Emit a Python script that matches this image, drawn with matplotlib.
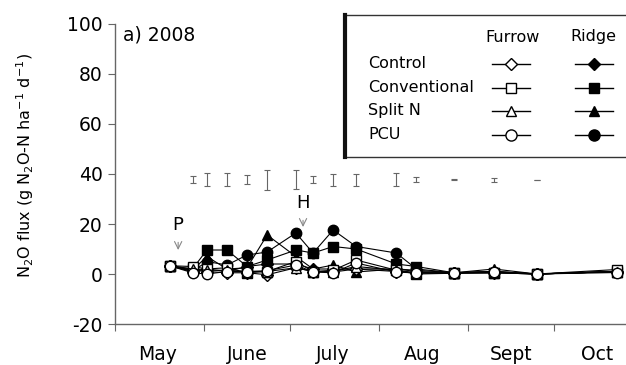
import matplotlib
matplotlib.use("Agg")
import matplotlib.pyplot as plt
from matplotlib.lines import Line2D
from matplotlib.patches import Rectangle

plt.rcParams['font.family'] = ['DejaVu Sans']
plt.rcParams['axes.unicode_minus'] = False

# sampling dates (day of year, 2008)
dates = [141, 149, 154, 161, 168, 175, 185, 191, 198, 206, 220, 227, 240, 254, 269, 297]

# furrow (open symbols)
furrow_control = [3.3, 1.5, 1.0, 0.5, 0.5, -0.3, 2.5, 1.0, 0.8, 2.0, 1.0, 0.5, 0.3, 0.5, 0.0, 1.0]
furrow_conv = [3.3, 3.0, 2.0, 2.5, 0.5, 1.0, 5.0, 1.0, 1.5, 5.6, 1.5, 0.0, 0.3, 0.5, 0.0, 1.8]
furrow_split = [3.3, 2.0, 1.5, 1.5, 1.0, 1.0, 2.5, 1.0, 1.0, 3.0, 1.5, 0.5, 0.5, 1.0, 0.0, 1.0]
furrow_pcu = [3.3, 0.5, 0.0, 1.0, 1.0, 1.3, 3.6, 0.8, 0.5, 4.4, 0.8, 0.4, 0.4, 0.8, 0.0, 0.6]

# ridge (filled symbols)
ridge_control = [3.3, 1.0, 2.0, 1.0, 3.0, 4.0, 4.0, 2.0, 2.0, 2.0, 2.0, 1.0, 0.5, 1.0, 0.0, 1.0]
ridge_conv = [3.3, 2.0, 9.6, 9.6, 3.0, 5.6, 9.6, 8.4, 11.0, 10.0, 4.0, 3.0, 0.5, 0.5, 0.0, 1.0]
ridge_split = [3.3, 1.5, 7.0, 2.0, 2.5, 15.6, 7.0, 2.0, 3.6, 0.8, 2.0, 1.5, 0.5, 2.0, 0.0, 1.0]
ridge_pcu = [3.3, 1.0, 5.0, 3.6, 7.6, 8.8, 16.4, 8.4, 17.6, 11.0, 8.4, 2.0, 0.5, 1.0, 0.0, 1.0]

# LSD bars
lsd_dates = [149, 154, 161, 168, 175, 185, 191, 198, 206, 220, 227, 240, 254, 269]
lsd_center = [37.6] * 14
lsd_half = [1.4, 2.6, 2.6, 1.8, 4.0, 3.8, 1.4, 2.4, 2.4, 2.6, 1.0, 0.2, 0.8, 0.1]

month_ticks = [122, 153, 183, 214, 245, 275]
month_mid = [137, 168, 198, 229, 260, 290]
month_names = ['May', 'June', 'July', 'Aug', 'Sept', 'Oct']

fig = plt.figure(figsize=(6.26, 3.65), dpi=100)
ax = fig.add_axes([0.1837, 0.1123, 0.8163, 0.822])

series = [
    (ridge_control, 'D', 'black', 6),
    (ridge_conv, 's', 'black', 6.5),
    (ridge_split, '^', 'black', 7),
    (ridge_pcu, 'o', 'black', 7.5),
    (furrow_control, 'D', 'white', 6),
    (furrow_conv, 's', 'white', 6.5),
    (furrow_split, '^', 'white', 7),
    (furrow_pcu, 'o', 'white', 7.5),
]
for vals, m, fc, ms in series:
    ax.plot(dates, vals, color='black', lw=0.8, marker=m, markerfacecolor=fc,
            markeredgecolor='black', markeredgewidth=1, markersize=ms)

ax.errorbar(lsd_dates, lsd_center, yerr=lsd_half, fmt='none', ecolor='#666666',
            elinewidth=0.8, capsize=2, capthick=0.8)

ax.annotate('P', xy=(144, 9.6), xytext=(144, 19.6), ha='center', va='center', fontsize=13,
            arrowprops=dict(arrowstyle='->', color='#888888', lw=0.8, shrinkA=4, shrinkB=0))
ax.annotate('H', xy=(187.5, 18.8), xytext=(187.5, 28.4), ha='center', va='center', fontsize=13,
            arrowprops=dict(arrowstyle='->', color='#888888', lw=0.8, shrinkA=4, shrinkB=0))

ax.text(0.015, 0.995, 'a) 2008', transform=ax.transAxes, ha='left', va='top', fontsize=13.5)

ax.set_xlim(122, 300)
ax.set_ylim(-20, 100)
ax.set_yticks([-20, 0, 20, 40, 60, 80, 100])
ax.set_xticks(month_ticks)
ax.set_xticklabels([])
ax.set_xticks(month_mid, minor=True)
ax.set_xticklabels(month_names, minor=True)
ax.tick_params(axis='x', which='minor', length=0, pad=15, labelsize=13.5)
ax.tick_params(axis='x', which='major', length=5, color='#666666')
ax.tick_params(axis='y', length=5, color='#666666', labelsize=13.5, pad=4)
for s in ['top', 'right']:
    ax.spines[s].set_visible(False)
for s in ['left', 'bottom']:
    ax.spines[s].set_color('#666666')
    ax.spines[s].set_linewidth(1)
ax.set_ylabel(r'N$_2$O flux (g N$_2$O-N ha$^{\mathrm{-1}}$ d$^{\mathrm{-1}}$)', fontsize=11.5)
ax.yaxis.set_label_coords(-0.155, 0.53)

# legend drawn by hand in figure pixels
W, H = 626.0, 365.0
def fx(px):
    return px / W
def fy(py):
    return 1 - py / H

fig.patches.append(Rectangle((fx(344), fy(157)), fx(700) - fx(344), fy(15) - fy(157),
                             transform=fig.transFigure, fill=False, edgecolor='#333333', lw=1))
fig.lines.append(Line2D([fx(345), fx(345)], [fy(15), fy(157)], transform=fig.transFigure,
                        color='#111111', lw=3))
fig.text(fx(513), fy(37), 'Furrow', ha='center', va='center', fontsize=11.5)
fig.text(fx(593), fy(37), 'Ridge', ha='center', va='center', fontsize=11.5)
labels = ['Control', 'Conventional', 'Split N', 'PCU']
markers = ['D', 's', '^', 'o']
sizes = [6, 7, 7.5, 8]
rows = [64, 88, 111, 135]
for lab, m, ms, r in zip(labels, markers, sizes, rows):
    fig.text(fx(368), fy(r), lab, ha='left', va='center', fontsize=11.5)
    for cx, fc in [(511, 'white'), (594, 'black')]:
        fig.lines.append(Line2D([fx(cx - 19), fx(cx), fx(cx + 19)], [fy(r)] * 3,
                                transform=fig.transFigure, color='black', lw=1,
                                marker=m, markevery=[1], markersize=ms,
                                markerfacecolor=fc, markeredgecolor='black'))

fig.savefig('out.png', dpi=100)
